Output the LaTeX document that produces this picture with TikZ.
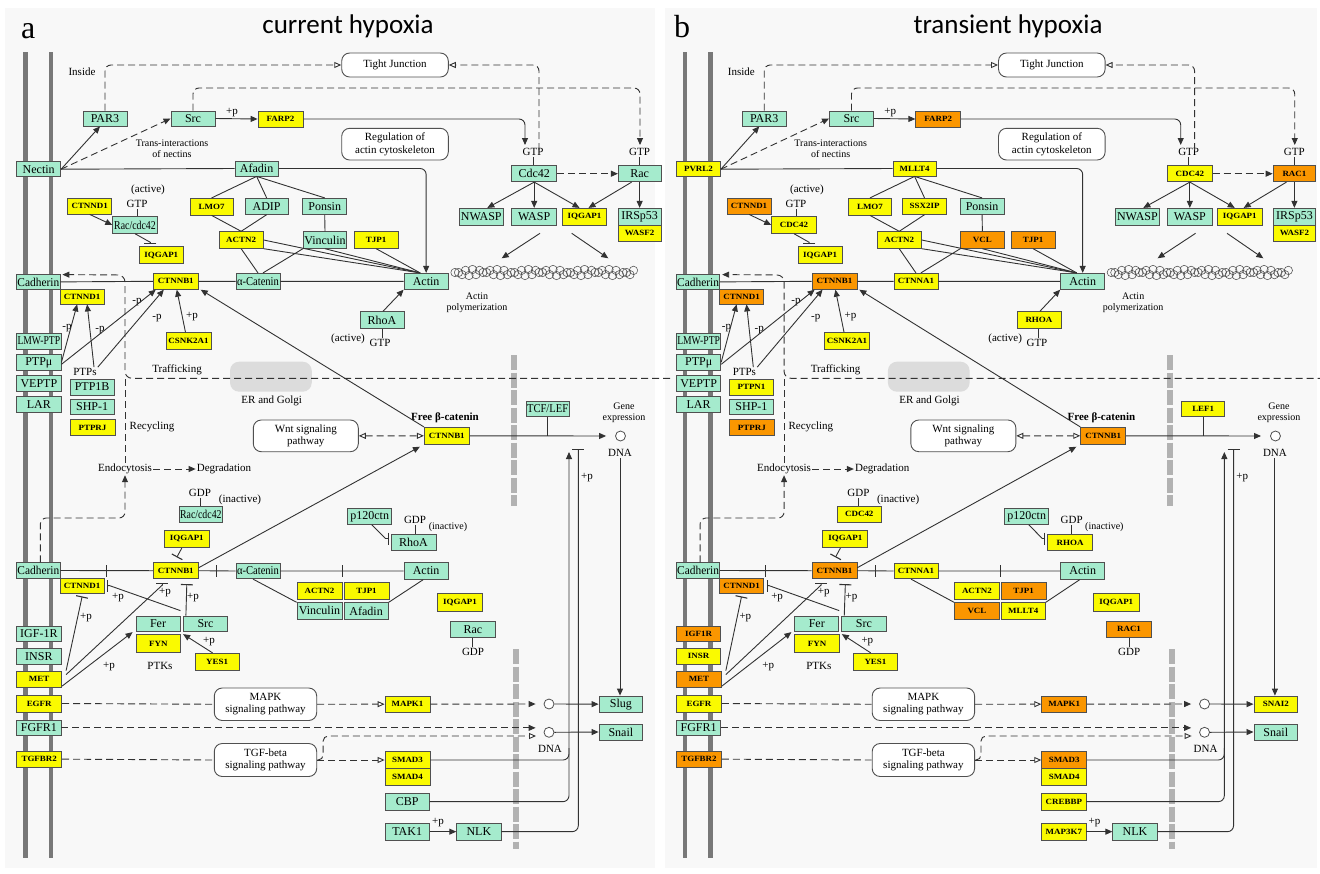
\documentclass[tikz,border=0pt]{standalone}
\usepackage{fontspec}
\usepackage{graphicx}
\setmainfont{Liberation Serif}
\newfontfamily\titlefont{Carlito}
\newfontfamily\genefont[FakeStretch=1.12]{Liberation Serif}
\usetikzlibrary{arrows.meta,calc}
\definecolor{kgreen}{RGB}{165,235,205}
\definecolor{kyellow}{RGB}{250,250,0}
\definecolor{korange}{RGB}{250,150,0}
\definecolor{bcol}{RGB}{80,80,80}
\definecolor{lcol}{RGB}{50,50,50}
\definecolor{bgc}{RGB}{248,248,248}
\definecolor{membc}{RGB}{120,120,120}
\definecolor{nucc}{RGB}{178,178,178}
\definecolor{erc}{RGB}{220,220,220}
\newcommand\gfont{\fontsize{12}{13}\selectfont}
\newcommand\yfont{\genefont\bfseries\fontsize{8}{8.5}\selectfont}
\newcommand\lfont{\fontsize{11}{12.5}\selectfont}
\newcommand\smallfont{\fontsize{10}{10.8}\selectfont}
\newcommand\sq[2]{\scalebox{#1}[1]{#2}}
\tikzset{
 cn/.style={draw=lcol,line width=0.9pt},
 arr/.style={-{Triangle[length=7pt,width=6pt]}},
 opn/.style={-{Triangle[length=7pt,width=6pt,fill=white]}},
 opn2/.style={{Triangle[length=7pt,width=6pt,fill=white]}-{Triangle[length=7pt,width=6pt,fill=white]}},
 inh/.style={-{Bar[width=12pt,line width=1.1pt]}},
 dsh/.style={dash pattern=on 7pt off 4pt},
 gbox/.style={draw=bcol,line width=0.8pt,inner sep=0pt},
 kgr/.style={fill=kgreen,font=\gfont},
 kyl/.style={fill=kyellow,font=\yfont},
 kor/.style={fill=korange,font=\yfont},
 rbox/.style={draw=bcol,line width=0.9pt,fill=white,rounded corners=8pt,inner sep=0pt,align=center,font=\fontsize{11}{12.5}\selectfont},
 lbl/.style={font=\lfont,inner sep=1pt},
 slbl/.style={font=\smallfont,inner sep=1pt,align=center},
 membbar/.style={draw=membc,line width=4.5pt},
 nucbar/.style={draw=nucc,line width=6.5pt,dash pattern=on 15pt off 2.5pt},
 erbox/.style={fill=erc,rounded corners=9pt,inner sep=0pt},
 dnac/.style={circle,draw=bcol,line width=0.8pt,minimum size=10pt,inner sep=0pt,fill=white},
}
\newcommand\gs[3]{\expandafter\def\csname L#1\endcsname{#2}\tikzset{C#1/.style={#3}}}
\newcommand\gn[5]{\node[gbox,C#1,minimum width={(#4-#2)*1pt},minimum height={(#5-#3)*1pt}] (#1) at ({(#2+#4)/2},{(#3+#5)/2}) {\csname L#1\endcsname};}
\newcommand\rb[6]{\node[rbox,minimum width={(#4-#2)*1pt},minimum height={(#5-#3)*1pt}] (#1) at ({(#2+#4)/2},{(#3+#5)/2}) {#6};}

\newcommand\setA{%
\gs{par3}{PAR3}{kgr}\gs{src}{Src}{kgr}\gs{farp}{FARP2}{kyl}\gs{nectin}{Nectin}{kgr}%
\gs{afadA}{Afadin}{kgr}\gs{ctnndA}{CTNND1}{kyl}\gs{raccA}{\sq{0.82}{Rac/cdc42}}{kgr}%
\gs{iqgA}{IQGAP1}{kyl}\gs{lmo}{LMO7}{kyl}\gs{adip}{ADIP}{kgr}\gs{ponsin}{Ponsin}{kgr}%
\gs{actnA}{ACTN2}{kyl}\gs{vincA}{Vinculin}{kgr}\gs{tjpA}{TJP1}{kyl}\gs{cdhA}{\sq{0.95}{Cadherin}}{kgr}%
\gs{ctnnbA}{CTNNB1}{kyl}\gs{acatA}{\sq{0.88}{α-Catenin}}{kgr}\gs{actinA}{Actin}{kgr}%
\gs{ctnndB}{CTNND1}{kyl}\gs{csnk}{CSNK2A1}{kyl}\gs{lmw}{\sq{0.8}{LMW-PTP}}{kgr}%
\gs{ptpmu}{PTPμ}{kgr}\gs{veptp}{VEPTP}{kgr}\gs{lar}{LAR}{kgr}\gs{ptp1b}{PTP1B}{kgr}%
\gs{shp}{SHP-1}{kgr}\gs{ptprj}{PTPRJ}{kyl}\gs{rhoA}{RhoA}{kgr}\gs{cdc}{Cdc42}{kgr}%
\gs{rac}{Rac}{kgr}\gs{nwasp}{NWASP}{kgr}\gs{wasp}{WASP}{kgr}\gs{iqgB}{IQGAP1}{kyl}%
\gs{irsp}{IRSp53}{kgr}\gs{wasf}{WASF2}{kyl}\gs{ctnnbF}{CTNNB1}{kyl}\gs{tcf}{\sq{0.88}{TCF/LEF}}{kgr}%
\gs{raccB}{\sq{0.82}{Rac/cdc42}}{kgr}\gs{iqgC}{IQGAP1}{kyl}\gs{cdhB}{\sq{0.95}{Cadherin}}{kgr}%
\gs{ctnnbB}{CTNNB1}{kyl}\gs{acatB}{\sq{0.88}{α-Catenin}}{kgr}\gs{actinB}{Actin}{kgr}%
\gs{ctnndC}{CTNND1}{kyl}\gs{p120}{p120ctn}{kgr}\gs{rhoB}{RhoA}{kgr}\gs{actnB}{ACTN2}{kyl}%
\gs{tjpB}{TJP1}{kyl}\gs{vincB}{Vinculin}{kgr}\gs{afadB}{Afadin}{kgr}\gs{iqgD}{IQGAP1}{kyl}%
\gs{racB}{Rac}{kgr}\gs{fer}{Fer}{kgr}\gs{srcB}{Src}{kgr}\gs{fyn}{FYN}{kyl}\gs{yes}{YES1}{kyl}%
\gs{igf}{IGF-1R}{kgr}\gs{insr}{INSR}{kgr}\gs{met}{MET}{kyl}\gs{egfr}{EGFR}{kyl}%
\gs{fgfr}{FGFR1}{kgr}\gs{tgfbr}{TGFBR2}{kyl}\gs{mapkA}{MAPK1}{kyl}\gs{slug}{Slug}{kgr}%
\gs{snail}{Snail}{kgr}\gs{smad3}{SMAD3}{kyl}\gs{smad4}{SMAD4}{kyl}\gs{cbp}{CBP}{kgr}%
\gs{tak}{TAK1}{kgr}\gs{nlk}{NLK}{kgr}}

\newcommand\setB{%
\gs{par3}{PAR3}{kgr}\gs{src}{Src}{kgr}\gs{farp}{FARP2}{kor}\gs{nectin}{PVRL2}{kyl}%
\gs{afadA}{MLLT4}{kyl}\gs{ctnndA}{CTNND1}{kor}\gs{raccA}{CDC42}{kyl}%
\gs{iqgA}{IQGAP1}{kyl}\gs{lmo}{LMO7}{kyl}\gs{adip}{SSX2IP}{kyl}\gs{ponsin}{Ponsin}{kgr}%
\gs{actnA}{ACTN2}{kyl}\gs{vincA}{VCL}{kor}\gs{tjpA}{TJP1}{kor}\gs{cdhA}{\sq{0.95}{Cadherin}}{kgr}%
\gs{ctnnbA}{CTNNB1}{kor}\gs{acatA}{CTNNA1}{kyl}\gs{actinA}{Actin}{kgr}%
\gs{ctnndB}{CTNND1}{kor}\gs{csnk}{CSNK2A1}{kyl}\gs{lmw}{\sq{0.8}{LMW-PTP}}{kgr}%
\gs{ptpmu}{PTPμ}{kgr}\gs{veptp}{VEPTP}{kgr}\gs{lar}{LAR}{kgr}\gs{ptp1b}{PTPN1}{kyl}%
\gs{shp}{SHP-1}{kgr}\gs{ptprj}{PTPRJ}{kor}\gs{rhoA}{RHOA}{kyl}\gs{cdc}{CDC42}{kyl}%
\gs{rac}{RAC1}{kor}\gs{nwasp}{NWASP}{kgr}\gs{wasp}{WASP}{kgr}\gs{iqgB}{IQGAP1}{kyl}%
\gs{irsp}{IRSp53}{kgr}\gs{wasf}{WASF2}{kyl}\gs{ctnnbF}{CTNNB1}{kor}\gs{tcf}{LEF1}{kyl}%
\gs{raccB}{CDC42}{kyl}\gs{iqgC}{IQGAP1}{kyl}\gs{cdhB}{\sq{0.95}{Cadherin}}{kgr}%
\gs{ctnnbB}{CTNNB1}{kor}\gs{acatB}{CTNNA1}{kyl}\gs{actinB}{Actin}{kgr}%
\gs{ctnndC}{CTNND1}{kor}\gs{p120}{p120ctn}{kgr}\gs{rhoB}{RHOA}{kyl}\gs{actnB}{ACTN2}{kyl}%
\gs{tjpB}{TJP1}{kor}\gs{vincB}{VCL}{kor}\gs{afadB}{MLLT4}{kyl}\gs{iqgD}{IQGAP1}{kyl}%
\gs{racB}{RAC1}{kor}\gs{fer}{Fer}{kgr}\gs{srcB}{Src}{kgr}\gs{fyn}{FYN}{kyl}\gs{yes}{YES1}{kyl}%
\gs{igf}{IGF1R}{kor}\gs{insr}{INSR}{kyl}\gs{met}{MET}{kor}\gs{egfr}{EGFR}{kyl}%
\gs{fgfr}{FGFR1}{kgr}\gs{tgfbr}{TGFBR2}{kor}\gs{mapkA}{MAPK1}{kor}\gs{slug}{SNAI2}{kyl}%
\gs{snail}{Snail}{kgr}\gs{smad3}{SMAD3}{kor}\gs{smad4}{SMAD4}{kyl}\gs{cbp}{CREBBP}{kyl}%
\gs{tak}{MAP3K7}{kyl}\gs{nlk}{NLK}{kgr}}

\newcommand\panel{%
\draw[membbar] (25.3,52) -- (25.3,858);
\draw[membbar] (50.8,52) -- (50.8,858);
\draw[nucbar] (514,355) -- (514,506);
\draw[nucbar] (516,649) -- (516,849);
\node[erbox,minimum width=81.7pt,minimum height=30pt] (er) at (270.9,376.7) {};
\node[lbl] (erl) at (271.7,401) {ER and Golgi};
\rb{tj}{341.7}{53}{448.3}{77}{Tight Junction}
\rb{reg}{341.7}{128.3}{448.3}{160}{Regulation of\\actin cytoskeleton}
\rb{wnt}{253.3}{420}{358.3}{451.7}{Wnt signaling\\pathway}
\rb{mapk}{214.3}{688}{316.7}{720.5}{MAPK\\signaling pathway}
\rb{tgf}{214.3}{743.5}{316.7}{776.5}{TGF-beta\\signaling pathway}
% gene boxes
\gn{par3}{83}{111}{127}{126}
\gn{src}{171}{111}{215}{126}
\gn{farp}{258}{111}{303}{127}
\gn{nectin}{16.7}{161.7}{60.7}{176.7}
\gn{afadA}{235}{161}{278.3}{176}
\gn{ctnndA}{67.7}{198.3}{111.7}{214}
\gn{raccA}{112.7}{216.7}{157.3}{233.3}
\gn{iqgA}{139.3}{246.7}{183.3}{263.3}
\gn{lmo}{190}{198.3}{233.3}{215}
\gn{adip}{245}{198.3}{288.3}{214.3}
\gn{ponsin}{302.7}{198.3}{346.7}{214.3}
\gn{actnA}{219}{231.7}{263.3}{248.3}
\gn{vincA}{303.3}{231.7}{346.7}{248.3}
\gn{tjpA}{354}{231.7}{398.3}{248.3}
\gn{cdhA}{16.7}{274.5}{60}{289.3}
\gn{ctnnbA}{153.3}{273.3}{198.3}{289.3}
\gn{acatA}{236}{273.3}{280}{289.3}
\gn{actinA}{404}{273.3}{448.3}{289.3}
\gn{ctnndB}{60}{289.3}{104.3}{304}
\gn{csnk}{166}{332.7}{211}{349}
\gn{lmw}{16.7}{333.3}{61}{349}
\gn{ptpmu}{16.7}{354.7}{61}{370}
\gn{veptp}{16.7}{375.7}{61}{391}
\gn{lar}{16.7}{396.7}{61}{412.3}
\gn{ptp1b}{70}{379}{114.3}{395}
\gn{shp}{70}{399}{114.3}{414.3}
\gn{ptprj}{70}{419.3}{115}{435.7}
\gn{rhoA}{360}{311.7}{404}{328.3}
\gn{cdc}{511.7}{165.7}{556.7}{181.7}
\gn{rac}{618.3}{165.7}{661}{181.7}
\gn{nwasp}{459.3}{208.3}{503.3}{225}
\gn{wasp}{511.7}{208.3}{556.7}{225}
\gn{iqgB}{562.3}{208.3}{606.7}{225}
\gn{irsp}{618.3}{208.3}{661}{225}
\gn{wasf}{618.3}{225}{661}{241.7}
\gn{ctnnbF}{424.3}{427.3}{469.3}{444.3}
\gn{tcf}{526}{401}{569.3}{416.7}
\gn{raccB}{179}{506}{222.7}{522.3}
\gn{iqgC}{164.3}{530}{209.3}{547.7}
\gn{cdhB}{16.7}{562.7}{60}{578.3}
\gn{ctnnbB}{153.3}{562.7}{198.3}{578.7}
\gn{acatB}{236}{563.3}{280}{578.7}
\gn{actinB}{404}{562.7}{448.3}{579.3}
\gn{ctnndC}{60}{578.3}{104.3}{593}
\gn{p120}{347.7}{508.3}{391.7}{524.3}
\gn{rhoB}{391}{534.3}{436}{550.7}
\gn{actnB}{297}{582}{342}{599}
\gn{tjpB}{344}{582}{389}{599}
\gn{vincB}{297}{602.7}{342}{619}
\gn{afadB}{344}{602.7}{388.3}{619}
\gn{iqgD}{437.3}{593.3}{482.7}{611}
\gn{racB}{450.7}{621}{495}{637.3}
\gn{fer}{136}{616}{180}{631.7}
\gn{srcB}{183.3}{616}{227.7}{631.7}
\gn{fyn}{136}{634.5}{180.7}{652.7}
\gn{yes}{195}{653.3}{239.3}{670}
\gn{igf}{16.7}{626}{61}{641}
\gn{insr}{16.7}{648.3}{61}{664}
\gn{met}{16.7}{671}{61.7}{687.7}
\gn{egfr}{16.7}{695}{61.7}{712}
\gn{fgfr}{16.7}{720}{61}{735.7}
\gn{tgfbr}{16.7}{751}{61.7}{767.3}
\gn{mapkA}{385}{696}{430}{712.3}
\gn{slug}{599}{696}{642.7}{712.3}
\gn{snail}{599}{724}{642.7}{740}
\gn{smad3}{385}{751.7}{430}{768.3}
\gn{smad4}{385}{768.3}{430}{785}
\gn{cbp}{385}{793.3}{429.3}{810}
\gn{tak}{385}{823.3}{429.3}{840}
\gn{nlk}{456.7}{823.3}{501}{840}
% actin filament
\foreach \i in {0,...,25}{%
 \draw[draw=bcol,line width=0.55pt] ({455+7*\i},{272.5+3*sin(45*\i)}) circle[radius=4.2pt];
 \draw[draw=bcol,line width=0.55pt] ({458.5+7*\i},{272.5-3*sin(45*\i)}) circle[radius=4.2pt];}
% circles (DNA)
\node[dnac] (dna1) at (620.5,436) {};
\node[dnac] (dna2) at (549,704) {};
\node[dnac] (dna3) at (549,732.3) {};
% labels
\node[lbl] (tIn) at (82,72) {Inside};
\node[lbl] (tp1) at (232,113) {+p};
\node[slbl] (tTr) at (172,149) {Trans-interactions\\of nectins};
\node[lbl] (tAc1) at (148,190) {(active)};
\node[lbl] (gtpA) at (137,204) {GTP};
\node[lbl] (gtpC) at (533,152) {GTP};
\node[lbl] (gtpR) at (639.5,152) {GTP};
\node[lbl] (tm1) at (67,328) {-p};
\node[lbl] (tm2) at (100,330) {-p};
\node[lbl] (tm3) at (137,302) {-p};
\node[lbl] (tm4) at (157,318) {-p};
\node[lbl] (tp2) at (192,317) {+p};
\node[lbl] (ptps) at (85,372) {PTPs};
\node[lbl] (tTf) at (177,370) {Trafficking};
\node[lbl] (tRc) at (152,427) {Recycling};
\node[lbl] (endo) at (125,469) {Endocytosis};
\node[lbl] (degr) at (224,469) {Degradation};
\node[lbl] (tAc2) at (348,339) {(active)};
\node[lbl] (gtpRho) at (380,343) {GTP};
\node[slbl] (tPol) at (477,303) {Actin\\polymerization};
\node[lbl,font=\lfont\bfseries] (tFree) at (445,418) {Free β-catenin};
\node[slbl] (tGe) at (624,413) {Gene\\expression};
\node[lbl] (dnal1) at (620,453) {DNA};
\node[lbl] (tp3) at (587,478) {+p};
\node[lbl] (gdpB) at (200,493) {GDP};
\node[lbl] (tIn1) at (240,500) {(inactive)};
\node[lbl] (gdpR) at (415,520) {GDP};
\node[slbl] (tIn2) at (448,527) {(inactive)};
\node[lbl] (gdpRac) at (473,652) {GDP};
\node[lbl] (tp4) at (86,618) {+p};
\node[lbl] (tp5) at (118,598) {+p};
\node[lbl] (tp6) at (165,593) {+p};
\node[lbl] (tp7) at (193,598) {+p};
\node[lbl] (tp8) at (209,642) {+p};
\node[lbl] (ptks) at (160,666) {PTKs};
\node[lbl] (tp9) at (109,667) {+p};
\node[lbl] (dnal2) at (550,749) {DNA};
\node[lbl] (tp10) at (438,823) {+p};
% free-end coordinates
\coordinate (tjR) at (539,150);
\coordinate (racTurn) at (640,88);
\coordinate (racIn) at (640,145);
\coordinate (cdcIn) at (525,145);
\coordinate (trafE) at (670,378.3);
\coordinate (cdhTurn) at (125,275);
\coordinate (endoC) at (125,518);
\coordinate (f1s) at (540,233.3);
\coordinate (f1e) at (501.7,258.3);
\coordinate (f2s) at (571.7,233.3);
\coordinate (f2e) at (608.3,258.3);
\coordinate (cbpEnd) at (569,452);
\coordinate (smJoin) at (569,748);
\coordinate (nlkEnd) at (578.3,449);
\coordinate (tgfEnd) at (536,736);
% top connectors
\draw[cn,dsh,opn,rounded corners=6pt] (par3.north) |- (tj.west);
\draw[cn,dsh,opn,rounded corners=6pt] (tjR) |- (tj.east);
\draw[cn,dsh,arr,rounded corners=6pt] (src.north) |- (racTurn) -- (racIn);
\draw[cn,arr,rounded corners=6pt] (farp.east) -| (cdcIn);
\draw[cn,arr] (src.east) -- (farp.west);
\draw[cn,arr] (nectin.east) -- ([xshift=-5pt]par3.south);
\draw[cn,dsh,arr] (nectin.east) -- (src.west);
\draw[cn] (nectin.east) -- (afadA.west);
\draw[cn,arr,rounded corners=6pt] (afadA.east) -| (actinA.north);
\draw[cn] (afadA.south) -- (lmo.north);
\draw[cn] (afadA.south) -- (adip.north);
\draw[cn] (afadA.south) -- (ponsin.north);
\draw[cn,arr] (ctnndA.south) -- (raccA.west);
\draw[cn] (gtpA.south) -- (gtpA.south |- raccA.north);
\draw[cn,inh] (raccA.south) -- ([xshift=-11pt,yshift=4pt]iqgA.north) -- ([xshift=-11pt,yshift=2pt]iqgA.north);
\draw[cn] (lmo.south) -- (actnA.north);
\draw[cn] (adip.south) -- (actnA.north);
\draw[cn] (ponsin.south) -- (vincA.north);
\draw[cn] (actnA.south) -- (acatA.north);
\draw[cn] (vincA.south west) -- ([xshift=5pt]acatA.north);
\draw[cn] (actnA.east) -- ([xshift=-6pt]actinA.north);
\draw[cn] (actnA.south east) -- ([xshift=-6pt]actinA.north);
\draw[cn] (vincA.south) -- ([xshift=-6pt]actinA.north);
\draw[cn] (tjpA.south) -- ([xshift=-6pt]actinA.north);
\draw[cn] (cdhA.east) -- (ctnnbA.west) (ctnnbA.east) -- (acatA.west) (acatA.east) -- (actinA.west);
\draw[cn,dsh,arr,rounded corners=7pt] (trafE) -| (cdhTurn) -- ([xshift=2pt,yshift=-0.5pt]cdhA.north east);
\draw[cn,arr] (ptpmu.east) -- ([xshift=-5pt]ctnndB.south);
\draw[cn,arr] ([xshift=9pt]ptps.north) -- ([xshift=5pt]ctnndB.south);
\draw[cn,arr] ([yshift=-2pt]ptpmu.east) -- ([xshift=-20pt]ctnnbA.south);
\draw[cn,arr] (ptps.north east) -- ([xshift=-12pt]ctnnbA.south);
\draw[cn,arr] ([xshift=-3pt]csnk.north) -- ([xshift=1pt]ctnnbA.south);
\draw[cn,arr] (ctnnbF.north west) -- ([xshift=2pt]ctnnbA.south east);
\draw[cn,arr] ([xshift=1pt]rhoA.north) -- (actinA.south west);
\draw[cn] (rhoA.south) -- (rhoA.south |- gtpRho.north);
% Cdc42 / Rac
\draw[cn] (gtpC.south) -- (gtpC.south |- cdc.north);
\draw[cn] (gtpR.south) -- (gtpR.south |- rac.north);
\draw[cn,dsh,arr] (cdc.east) -- (rac.west);
\draw[cn,arr] (cdc.south) -- ([xshift=6pt]nwasp.north);
\draw[cn,arr] (cdc.south) -- (wasp.north);
\draw[cn,arr] (cdc.south) -- ([xshift=-5pt]iqgB.north);
\draw[cn,arr] ([xshift=-8pt]rac.south) -- ([xshift=4pt]iqgB.north);
\draw[cn,arr] (rac.south) -- (irsp.north);
\draw[cn,arr] (f1s) -- (f1e);
\draw[cn,arr] (f2s) -- (f2e);
% trafficking / recycling
\draw[cn,dsh] (endo.north) -- (endo.north |- trafE);
\draw[cn,dsh,arr] (endo.east) -- (degr.west);
\draw[cn,dsh,arr,rounded corners=6pt] ([xshift=2pt]cdhB.north) |- (endoC) -- (endo.south);
% Wnt / free beta-catenin
\draw[cn,dsh,opn2] (wnt.east) -- (ctnnbF.west);
\draw[cn,arr,shorten >=9pt] (ctnnbF.east) -- (dna1.west);
\draw[cn] (tcf.south) -- (tcf.south |- ctnnbF.east);
\draw[cn,arr] (dnal1.south) -- (dnal1.south |- slug.north);
\draw[cn,arr,rounded corners=6pt] (cbp.east) -| (cbpEnd);
\draw[cn,rounded corners=6pt] (smad3.east) -| (smJoin);
\draw[cn,inh,rounded corners=6pt] (nlk.east) -| (nlkEnd);
% lower adherens
\draw[cn] (cdhB.east) -- (ctnnbB.west) (ctnnbB.east) -- (acatB.west) (acatB.east) -- (actinB.west);
\draw[cn] (106.7,565) -- (106.7,577) (216.7,565) -- (216.7,577) (342.7,565) -- (342.7,577);
\draw[cn] (gdpB.south) -- (gdpB.south |- raccB.north);
\draw[cn,inh] ([xshift=-5pt]iqgC.south) -- ([xshift=1pt,yshift=5pt]ctnnbB.north);
\draw[cn,arr] ([yshift=3pt]ctnnbB.east) -- ([xshift=-4pt,yshift=-2pt]ctnnbF.south west);
\draw[cn,inh] ([xshift=2pt]p120.south) -- ([xshift=-5pt,yshift=4pt]rhoB.west) -- ([xshift=-2pt,yshift=4pt]rhoB.west);
\draw[cn] (gdpR.south) -- (gdpR.south |- rhoB.north);
\draw[cn] ([xshift=-5pt]acatB.south) -- (vincB.north west);
\draw[cn] (afadB.north east) -- ([xshift=-3pt]actinB.south);
\draw[cn] (racB.south) -- (racB.south |- gdpRac.north);
% PTKs
\draw[cn,inh] ([xshift=4pt]met.north east) -- ([yshift=-3pt]ctnndC.south);
\draw[cn,inh] ([xshift=4pt,yshift=-4pt]met.north east) -- ([xshift=-13.5pt,yshift=-6pt]ctnnbB.south) -- ([xshift=-13.5pt,yshift=-4pt]ctnnbB.south);
\draw[cn,arr] ([yshift=2pt]met.south east) -- ([xshift=-3pt]fer.south west);
\draw[cn,inh] ([yshift=5pt]fer.north east) -- ([xshift=5pt]ctnndC.east) -- ([xshift=2.5pt]ctnndC.east);
\draw[cn,inh] ([xshift=3pt]srcB.north west) -- ([xshift=11pt,yshift=-5pt]ctnnbB.south);
\draw[cn,arr] ([xshift=18pt]yes.north west) -- ([xshift=2pt]fyn.north east);
% MAPK, FGFR, TGF
\draw[cn,dsh] (egfr.east) -- (mapk.west);
\draw[cn,dsh,opn] (mapk.east) -- (mapkA.west);
\draw[cn,dsh,arr,shorten >=8pt] (mapkA.east) -- (dna2.west);
\draw[cn,arr] (dna2.east) -- (slug.west);
\draw[cn,dsh,arr,shorten >=8pt] (fgfr.east) -- (fgfr.east -| dna3.west);
\draw[cn,arr] (dna3.east) -- (snail.west);
\draw[cn,dsh] (tgfbr.east) -- (tgf.west);
\draw[cn,dsh,opn] (tgf.east) -- (smad3.west);
\draw[cn,dsh,opn,rounded corners=5pt] (tgf.east) -- ++(6,0) |- (tgfEnd);
\draw[cn,arr] (tak.east) -- (nlk.west);
}

\begin{document}
\begin{tikzpicture}[x=1pt,y=-1pt]
\useasboundingbox (0,0) rectangle (1320,873);
\fill[white] (0,0) rectangle (1320,873);
\fill[bgc] (5,8) rectangle (655,868);
\fill[bgc] (665,8) rectangle (1317,868);
\node[font=\fontsize{32}{34}\selectfont,anchor=base west,inner sep=0pt] (la) at (21,38) {a};
\node[font=\titlefont\fontsize{27}{30}\selectfont,anchor=base,inner sep=0pt] (ta) at (348,33) {current hypoxia};
\node[font=\fontsize{32}{34}\selectfont,anchor=base west,inner sep=0pt] (lb) at (674,37) {b};
\node[font=\titlefont\fontsize{27}{30}\selectfont,anchor=base,inner sep=0pt] (tb) at (1008,33) {transient hypoxia};
\begin{scope}[name prefix=a-]
\setA\panel
\end{scope}
\begin{scope}[shift={(660.1,0)},xscale=0.9917,name prefix=b-]
\setB\panel
\end{scope}
\end{tikzpicture}
\end{document}
